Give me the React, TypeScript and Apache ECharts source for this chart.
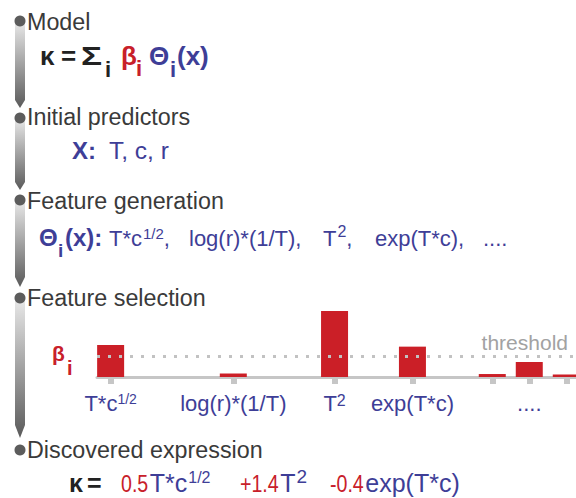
import React, { useEffect, useRef } from 'react';
import * as echarts from 'echarts';

// ---- data ----
const stageTitles = ['Model', 'Initial predictors', 'Feature generation', 'Feature selection', 'Discovered expression'];
const predictors = ['T', 'c', 'r'];
const generatedFeatures = ['T*c^1/2', 'log(r)*(1/T)', 'T^2', 'exp(T*c)', '....'];
const featureNames = ['T*c^1/2', 'log(r)*(1/T)', 'T^2', 'exp(T*c)', '', '....', ''];
const featurePos = [0.35, 3.5, 6.1, 8.1, 10.15, 11.1, 12.05];
const betaValues = [0.485, 0.053, 1.0, 0.46, 0.045, 0.227, 0.038];
const threshold = 0.318;
const selectedCoefs = ['0.5', '+1.4', '-0.4'];
const selectedTerms = ['T*c^1/2', 'T^2', 'exp(T*c)'];

const FONT = '"Liberation Sans", Arial, Helvetica, sans-serif';
const DARK = '#3a3a3a';
const BLUE = '#3e3e97';
const RED = '#c8202a';
const BAR = '#cb1f27';

let ctx: CanvasRenderingContext2D | null = null;
function measure(text: string, size: number, weight = 'normal') {
  if (!ctx) ctx = document.createElement('canvas').getContext('2d');
  if (!ctx) return text.length * size * 0.5;
  ctx.font = `${weight} ${size}px ${FONT}`;
  return ctx.measureText(text).width;
}

function txt(text: string, x: number, base: number, size: number, fill: string, weight = 'normal', scaleX = 1) {
  return {
    type: 'text',
    silent: true,
    z: 10,
    x,
    y: base - 0.35 * size,
    scaleX,
    style: {
      text,
      fill,
      font: `${weight} ${size}px ${FONT}`,
      fontSize: size,
      fontWeight: weight,
      fontFamily: FONT,
      textAlign: 'left',
      textVerticalAlign: 'middle',
      align: 'left',
      verticalAlign: 'middle',
    },
  };
}

// expression with optional superscript (a^b) and suffix
function expr(out: any[], name: string, x: number, base: number, size: number, color: string,
  supSize: number, raise: number, suffix = '') {
  const [b, sup] = name.split('^');
  out.push(txt(b, x, base, size, color));
  let end = x + measure(b, size);
  if (sup) {
    out.push(txt(sup, end + 1, base - raise, supSize, color));
    end += 1 + measure(sup, supSize);
  }
  if (suffix) {
    out.push(txt(suffix, end, base, size, color));
    end += measure(suffix, size);
  }
  return end;
}

function grad() {
  return new echarts.graphic.LinearGradient(0, 0, 0, 1, [
    { offset: 0, color: '#e9e9e9' },
    { offset: 1, color: '#5a5a5a' },
  ]);
}

function buildGraphic() {
  const els: any[] = [];
  const segs = [[21, 100, 108], [118, 182, 190], [200, 277, 287], [298, 425, 438]];
  segs.forEach(([a, b, c]) => {
    els.push({
      type: 'polygon', silent: true, z: 1,
      shape: { points: [[15, a], [25, a], [25, b], [20, c], [15, b]] },
      style: { fill: grad() },
    });
  });
  const dotY = [21, 118, 200, 298, 450];
  dotY.forEach((y) => els.push({ type: 'circle', silent: true, z: 2, shape: { cx: 20, cy: y, r: 5.5 }, style: { fill: '#5c5c5c' } }));
  const titleBase = [30.5, 125, 209, 306, 458];
  stageTitles.forEach((t, i) => els.push(txt(t, 27, titleBase[i], 23.3, DARK)));

  // model line
  els.push(txt('κ', 40, 65, 26, '#222', 'bold'));
  els.push(txt('=', 61, 65, 26, '#222', 'bold'));
  els.push(txt('Σ', 81, 65, 26, '#222', 'bold', 1.35));
  els.push(txt('i', 105, 77, 22, '#222', 'bold'));
  els.push(txt('β', 121, 65, 26, RED, 'bold'));
  els.push(txt('i', 136, 76, 22, RED, 'bold'));
  els.push(txt('Θ', 149, 65, 26, BLUE, 'bold'));
  els.push(txt('i', 170, 77, 22, BLUE, 'bold'));
  els.push(txt('(x)', 177, 65, 26, BLUE, 'bold'));

  // predictors
  els.push(txt('X:', 72, 159, 24, BLUE, 'bold'));
  els.push(txt(predictors.join(', '), 109, 159, 24.5, BLUE));

  // generated features
  els.push(txt('Θ', 39, 246, 24, BLUE, 'bold'));
  els.push(txt('i', 58, 257, 19, BLUE, 'bold'));
  els.push(txt('(x):', 65, 246, 24, BLUE, 'bold'));
  const genX = [109, 189, 323, 375, 483];
  generatedFeatures.forEach((f, i) => {
    const last = i === generatedFeatures.length - 1;
    const sq = f.endsWith('^2');
    expr(els, f, genX[i], 246, 22, BLUE, sq ? 16 : 15, sq ? 9 : 7, last ? '' : ',');
  });

  // beta label
  els.push(txt('β', 52, 361, 21, RED, 'bold'));
  els.push(txt('i', 67, 375, 20, RED, 'bold'));

  // discovered expression
  const base = 492;
  els.push(txt('κ', 69, base, 25, '#222', 'bold'));
  els.push(txt('=', 87, base, 25, '#222', 'bold'));
  const coefX = [121, 240, 330];
  const cs = 0.8;
  selectedCoefs.forEach((c, i) => {
    els.push(txt(c, coefX[i], base, 24.5, RED, 'normal', cs));
    const start = coefX[i] + measure(c, 24.5) * cs + 1.5;
    const sq = selectedTerms[i].endsWith('^2');
    expr(els, selectedTerms[i], start, base, 25, BLUE, sq ? 19 : 16, 9);
  });
  return els;
}

function toRich(s: string) {
  const [b, sup] = s.split('^');
  if (!sup) return b;
  return b + '{' + (sup.length > 1 ? 'sf' : 'sn') + '|' + sup + '}';
}

export default function App() {
  const ref = useRef<HTMLDivElement>(null);
  useEffect(() => {
    if (!ref.current) return;
    const chart = echarts.init(ref.current, undefined, { renderer: 'svg', width: 576, height: 498 });
    const labelFor = (v: number) => {
      const i = featurePos.findIndex((p) => Math.abs(p - v) < 1e-6);
      return i < 0 ? '' : toRich(featureNames[i]);
    };
    chart.setOption({
      animation: false,
      backgroundColor: '#ffffff',
      grid: { left: 97, right: 0, top: 311, bottom: 121 },
      xAxis: {
        type: 'value',
        min: 0,
        max: 12.3,
        splitLine: { show: false },
        axisLine: { show: true, lineStyle: { color: '#c6c6c6', width: 3 } },
        axisTick: { show: true, customValues: featurePos, length: 7, lineStyle: { color: '#c6c6c6', width: 6 } },
        axisLabel: {
          customValues: featurePos,
          formatter: labelFor,
          margin: 15,
          color: BLUE,
          fontSize: 22,
          fontFamily: FONT,
          lineHeight: 22,
          rich: {
            sf: { fontSize: 14, lineHeight: 10, verticalAlign: 'top', color: BLUE, fontFamily: FONT },
            sn: { fontSize: 16, lineHeight: 8, verticalAlign: 'top', color: BLUE, fontFamily: FONT },
          },
        },
      },
      yAxis: { type: 'value', min: 0, max: 1, show: false, splitLine: { show: false } },
      series: [
        {
          type: 'bar',
          barWidth: 27,
          data: featurePos.map((p, i) => [p, betaValues[i]]),
          itemStyle: { color: BAR },
          emphasis: { disabled: true },
          silent: true,
          z: 2,
          markLine: {
            silent: true,
            symbol: ['none', 'none'],
            z: 5,
            data: [{ yAxis: threshold }],
            lineStyle: { color: '#c2c2c2', width: 3, type: [3, 8], cap: 'butt' },
            emphasis: { disabled: true },
            label: {
              show: true,
              position: 'insideEndTop',
              formatter: 'threshold',
              color: '#a2a2a2',
              fontSize: 21,
              fontFamily: FONT,
              distance: [8, 3],
            },
          },
        },
      ],
      graphic: { elements: buildGraphic() },
    });
    return () => chart.dispose();
  }, []);
  return (
    <div
      ref={ref}
      style={{ position: 'fixed', left: 0, top: 0, width: 576, height: 498, background: '#fff' }}
    />
  );
}
